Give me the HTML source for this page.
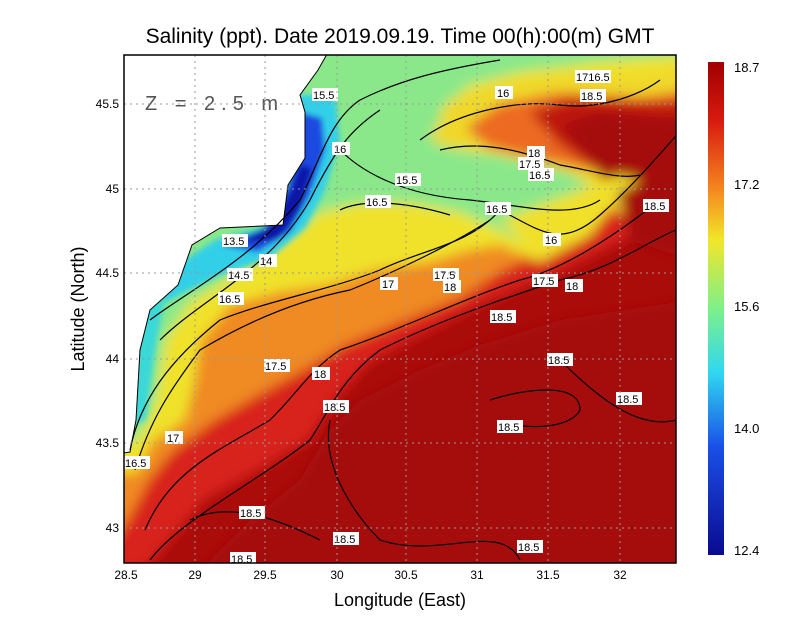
<!DOCTYPE html>
<html><head><meta charset="utf-8"><style>
body{margin:0;background:#fff;width:800px;height:618px;overflow:hidden;font-family:"Liberation Sans",sans-serif}
</style></head><body>
<svg width="800" height="618" xmlns="http://www.w3.org/2000/svg" font-family="Liberation Sans, sans-serif">
<defs>
<clipPath id="pc"><rect x="124" y="55" width="552" height="508"/></clipPath>
<filter id="bl" x="-10%" y="-10%" width="120%" height="120%"><feGaussianBlur stdDeviation="6"/></filter>
<filter id="bs" x="-10%" y="-10%" width="120%" height="120%"><feGaussianBlur stdDeviation="3"/></filter>
<linearGradient id="cb" x1="0" y1="0" x2="0" y2="1">
<stop offset="0" stop-color="#a00000"/><stop offset="0.12" stop-color="#d81a10"/>
<stop offset="0.25" stop-color="#f4801e"/><stop offset="0.36" stop-color="#f2e628"/>
<stop offset="0.5" stop-color="#7ef08a"/><stop offset="0.63" stop-color="#30d8f0"/>
<stop offset="0.78" stop-color="#1a50e8"/><stop offset="1" stop-color="#0a0a90"/>
</linearGradient>
</defs>
<text x="400" y="43" text-anchor="middle" font-size="21" fill="#000">Salinity (ppt). Date 2019.09.19. Time 00(h):00(m) GMT</text>
<g clip-path="url(#pc)">
<rect x="124" y="55" width="552" height="508" fill="#aa0c0a"/>
<g filter="url(#bl)">
<polygon fill="#d8241a" points="110,570 145,570 175,535 205,500 260,470 310,440 335,400 370,362 420,335 480,305 560,272 620,242 690,200 690,40 110,40"/>
<polygon fill="#f08a20" points="110,545 128,520 148,482 172,452 212,422 258,395 300,372 345,345 400,322 460,298 500,272 540,252 600,215 650,160 690,100 690,40 110,40"/>
<polygon fill="#f0e22a" points="110,475 138,472 152,442 185,420 195,380 200,342 230,305 280,292 330,285 375,270 430,262 470,250 500,245 540,262 590,235 640,170 690,90 690,40 110,40"/>
<polygon fill="#8ae88a" points="110,445 138,440 156,400 165,340 190,302 240,272 285,240 320,212 360,203 410,203 460,212 520,240 560,232 600,198 612,182 560,170 500,155 450,140 440,110 470,85 520,72 600,62 690,55 690,40 110,40"/>
<polygon fill="#f0d82a" points="430,140 450,100 500,82 560,74 630,76 690,65 690,140 660,200 620,215 600,190 560,168 500,155 450,148"/>
<polygon fill="#ec6a24" points="465,128 500,104 560,92 640,97 690,90 690,200 640,188 600,172 540,160 490,148"/>
<polygon fill="#c0120c" points="530,112 570,98 660,102 690,100 690,240 640,230 620,200 600,172 560,145"/>
<polygon fill="#a50a08" points="560,125 600,112 690,120 690,260 630,240 620,200"/>
<polygon fill="#f0e02a" points="500,220 540,255 600,205 640,180 620,175"/>
<polygon fill="#a50a08" points="330,430 360,400 420,370 480,345 560,320 690,300 690,570 200,570 250,520 300,480"/>
</g>
<g filter="url(#bs)">
<polygon fill="#30d0e8" points="290,95 335,95 340,140 325,190 305,228 270,258 220,275 185,292 160,305 170,270 215,240 270,225 288,180 296,140"/>
<polygon fill="#3ad8d8" points="140,300 165,298 155,350 146,420 132,425"/>
<polygon fill="#1a48e0" points="300,112 322,118 325,150 310,195 290,232 258,252 222,246 265,228 288,185 297,140"/>
<polygon fill="#0a14a8" points="300,165 312,168 300,210 278,240 232,242 272,226 290,192"/>
</g>
<polygon fill="#fff" stroke="#000" stroke-width="1" points="110,40 335,40 318,70 300,95 305,112 305,158 288,185 283,225 220,228 192,245 178,285 150,310 140,350 136,420 130,452 110,455"/>
<g fill="none" stroke="#000" stroke-width="1.2">
<path d="M150,320 C190,290 250,260 300,200 C320,160 330,120 360,100 C400,80 440,70 500,60"/>
<path d="M160,340 C200,300 270,270 310,200 C335,150 350,130 380,110"/>
<path d="M340,150 C360,170 400,195 470,200 C520,205 570,220 600,200"/>
<path d="M340,210 C360,200 400,200 450,215"/>
<path d="M135,470 C150,420 170,390 200,350 C250,320 300,300 350,290 C400,270 460,240 490,220"/>
<path d="M130,450 C140,400 170,360 220,320 C270,300 330,290 380,270 C420,250 470,245 500,210 C540,230 560,250 600,215 C640,180 680,130 690,120"/>
<path d="M145,530 C170,470 220,450 270,420 C300,390 310,370 340,350 C400,330 460,300 520,280 C560,270 610,240 660,200"/>
<path d="M420,140 C460,110 520,100 560,105 C600,110 640,95 660,80"/>
<path d="M440,150 C480,140 520,150 560,165 C590,170 620,180 640,175"/>
<path d="M150,560 C180,520 260,480 310,440 C330,410 340,380 380,350 C440,320 500,300 560,280 C610,270 650,240 676,230"/>
<path d="M330,420 C320,470 360,520 380,540 C440,560 500,520 520,560"/>
<path d="M560,360 C600,400 640,430 676,420"/>
<path d="M190,520 C230,500 280,520 320,540"/>
<path d="M490,400 C520,390 580,380 580,410 C570,430 520,430 500,420"/>
</g>
</g>
<g font-size="11" fill="#000">
<g fill="#fff"><rect x="312" y="88" width="26" height="13"/><rect x="332" y="142" width="18" height="13"/><rect x="395" y="173" width="26" height="13"/><rect x="365" y="195" width="26" height="13"/><rect x="485" y="202" width="26" height="13"/><rect x="222" y="234" width="26" height="13"/><rect x="259" y="254" width="18" height="13"/><rect x="227" y="268" width="26" height="13"/><rect x="218" y="292" width="26" height="13"/><rect x="380" y="277" width="18" height="13"/><rect x="433" y="268" width="26" height="13"/><rect x="443" y="280" width="18" height="13"/><rect x="495" y="86" width="18" height="13"/><rect x="575" y="70" width="36" height="13"/><rect x="580" y="89" width="26" height="13"/><rect x="527" y="146" width="18" height="13"/><rect x="518" y="157" width="26" height="13"/><rect x="528" y="168" width="26" height="13"/><rect x="643" y="199" width="26" height="13"/><rect x="543" y="233" width="18" height="13"/><rect x="532" y="274" width="26" height="13"/><rect x="565" y="279" width="18" height="13"/><rect x="490" y="310" width="26" height="13"/><rect x="547" y="353" width="26" height="13"/><rect x="264" y="359" width="26" height="13"/><rect x="312" y="367" width="18" height="13"/><rect x="323" y="400" width="26" height="13"/><rect x="616" y="392" width="26" height="13"/><rect x="497" y="420" width="26" height="13"/><rect x="165" y="431" width="18" height="13"/><rect x="124" y="456" width="26" height="13"/><rect x="239" y="506" width="26" height="13"/><rect x="333" y="532" width="26" height="13"/><rect x="517" y="540" width="26" height="13"/><rect x="230" y="552" width="26" height="13"/></g>
<text x="313" y="99">15.5</text><text x="334" y="153">16</text><text x="396" y="184">15.5</text><text x="366" y="206">16.5</text><text x="486" y="213">16.5</text><text x="223" y="245">13.5</text><text x="260" y="265">14</text><text x="228" y="279">14.5</text><text x="219" y="303">16.5</text><text x="382" y="288">17</text><text x="434" y="279">17.5</text><text x="444" y="291">18</text><text x="497" y="97">16</text><text x="576" y="81">1716.5</text><text x="581" y="100">18.5</text><text x="528" y="157">18</text><text x="519" y="168">17.5</text><text x="529" y="179">16.5</text><text x="644" y="210">18.5</text><text x="545" y="244">16</text><text x="533" y="285">17.5</text><text x="566" y="290">18</text><text x="491" y="321">18.5</text><text x="548" y="364">18.5</text><text x="265" y="370">17.5</text><text x="314" y="378">18</text><text x="324" y="411">18.5</text><text x="617" y="403">18.5</text><text x="498" y="431">18.5</text><text x="167" y="442">17</text><text x="125" y="467">16.5</text><text x="240" y="517">18.5</text><text x="334" y="543">18.5</text><text x="518" y="551">18.5</text><text x="231" y="563">18.5</text>
</g>
<text x="145" y="110" font-size="20" fill="#555" letter-spacing="6">Z = 2.5 m</text>
<g stroke="#999" stroke-width="1" stroke-dasharray="2,4">
<line x1="195" y1="55" x2="195" y2="563"/><line x1="265" y1="55" x2="265" y2="563"/><line x1="337" y1="55" x2="337" y2="563"/><line x1="406" y1="55" x2="406" y2="563"/><line x1="477" y1="55" x2="477" y2="563"/><line x1="548" y1="55" x2="548" y2="563"/><line x1="620" y1="55" x2="620" y2="563"/>
<line x1="124" y1="104" x2="676" y2="104"/><line x1="124" y1="189" x2="676" y2="189"/><line x1="124" y1="273" x2="676" y2="273"/><line x1="124" y1="359" x2="676" y2="359"/><line x1="124" y1="443" x2="676" y2="443"/><line x1="124" y1="528" x2="676" y2="528"/>
</g>
<rect x="124" y="55" width="552" height="508" fill="none" stroke="#000" stroke-width="1.5"/>
<g font-size="12" fill="#000" text-anchor="middle">
<text x="126" y="579">28.5</text><text x="195" y="579">29</text><text x="265" y="579">29.5</text><text x="337" y="579">30</text><text x="406" y="579">30.5</text><text x="477" y="579">31</text><text x="548" y="579">31.5</text><text x="620" y="579">32</text>
</g>
<g font-size="12" fill="#000" text-anchor="end">
<text x="119" y="108">45.5</text><text x="119" y="193">45</text><text x="119" y="277">44.5</text><text x="119" y="363">44</text><text x="119" y="447">43.5</text><text x="119" y="532">43</text>
</g>
<text x="400" y="606" text-anchor="middle" font-size="18">Longitude (East)</text>
<text transform="translate(84,309) rotate(-90)" text-anchor="middle" font-size="18">Latitude (North)</text>
<rect x="708" y="62" width="16" height="493" fill="url(#cb)"/>
<g font-size="13"><text x="734" y="72">18.7</text><text x="734" y="189">17.2</text><text x="734" y="311">15.6</text><text x="734" y="433">14.0</text><text x="734" y="555">12.4</text></g>
</svg>
</body></html>
